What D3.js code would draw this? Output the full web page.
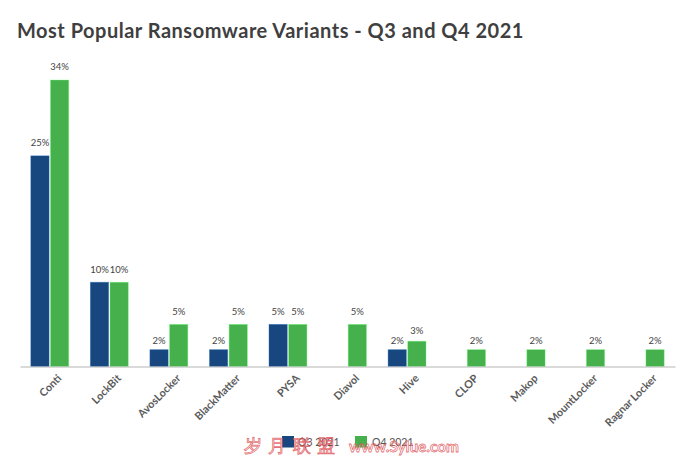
<!DOCTYPE html>
<html><head><meta charset="utf-8">
<script src="https://cdn.jsdelivr.net/npm/d3@7"></script>
<style>html,body{margin:0;padding:0;background:#fff}svg{display:block}text{font-family:Lato,"Noto Sans",sans-serif}</style>
</head><body><div id="c"></div>
<script>
const categories=["Conti","LockBit","AvosLocker","BlackMatter","PYSA","Diavol","Hive","CLOP","Makop","MountLocker","Ragnar Locker"];
const q3Values=[25,10,2,2,5,null,2,null,null,null,null];
const q4Values=[34,10,5,5,5,5,3,2,2,2,2];
const seriesNames=["Q3 2021","Q4 2021"];
const seriesColors=["#17477e","#46b04c"];
const titleText="Most Popular Ransomware Variants - Q3 and Q4 2021";
const watermark=["岁","月","联","盟"];
const watermarkUrl="www.Sylue.com";

const W=700,H=456;
const svg=d3.select("#c").append("svg").attr("width",W).attr("height",H);
svg.append("text").attr("x",17).attr("y",38).attr("font-size",20).attr("font-weight",700).attr("fill","#3f3f3f").attr("letter-spacing",0.5).text(titleText);

const x=d3.scaleBand().domain(categories).range([20,675]);
const xs=d3.scaleBand().domain(seriesNames).range([0,x.bandwidth()]).paddingInner(0.07).paddingOuter(0.55);
const y=d3.scaleLinear().domain([0,34]).range([366.5,80]);

[q3Values,q4Values].forEach((vals,si)=>{
  const rows=categories.map((c,i)=>({c,v:vals[i]})).filter(d=>d.v!=null);
  const g=svg.append("g");
  g.selectAll("rect").data(rows).join("rect")
    .attr("x",d=>x(d.c)+xs(seriesNames[si]))
    .attr("y",d=>y(d.v))
    .attr("width",xs.bandwidth())
    .attr("height",d=>y(0)-y(d.v))
    .attr("fill",seriesColors[si])
    .attr("stroke",d3.color(seriesColors[si]).brighter(1.2))
    .attr("stroke-opacity",0.45).attr("stroke-width",0.8);
  g.selectAll("text").data(rows).join("text")
    .attr("x",d=>x(d.c)+xs(seriesNames[si])+xs.bandwidth()/2)
    .attr("y",d=>y(d.v)-Math.min(9.7,d.v+4))
    .attr("text-anchor","middle").attr("font-size",9.5).attr("fill","#444")
    .text(d=>d.v+"%");
});

const ax=svg.append("g").attr("transform","translate(0,366.5)").call(d3.axisBottom(x).tickSize(0).tickPadding(0));
ax.select(".domain").attr("stroke","#b5b5b5").attr("stroke-width",1);
ax.selectAll(".tick text")
  .attr("text-anchor","end").attr("font-size",10.8).attr("font-weight",700).attr("fill","#5a5a5a")
  .attr("font-family",'Lato,"Noto Sans",sans-serif')
  .attr("dx",0).attr("dy",0).attr("y",0)
  .attr("transform","translate(12.5,12.5) rotate(-45)");

const lx=[282,355];
seriesNames.forEach((n,i)=>{
  svg.append("rect").attr("x",lx[i]).attr("y",436).attr("width",12).attr("height",11.5).attr("fill",seriesColors[i]);
  svg.append("text").attr("x",lx[i]+(i?17:16)).attr("y",446).attr("font-size",10.5).attr("fill","#555").text(n);
});

const wm=svg.append("g").attr("fill","#fff").attr("fill-opacity",0.3).attr("stroke","#dc4a50").attr("stroke-width",0.8).attr("stroke-opacity",0.8);
[244,268,293,317].forEach((px,i)=>wm.append("text").attr("x",px).attr("y",452).attr("font-size",18).attr("font-family",'"Noto Sans CJK SC"').text(watermark[i]));
wm.append("text").attr("x",349).attr("y",452).attr("font-size",16).attr("font-weight",700).attr("font-family",'"DejaVu Sans"').attr("textLength",110).attr("lengthAdjust","spacingAndGlyphs").text(watermarkUrl);
</script></body></html>
